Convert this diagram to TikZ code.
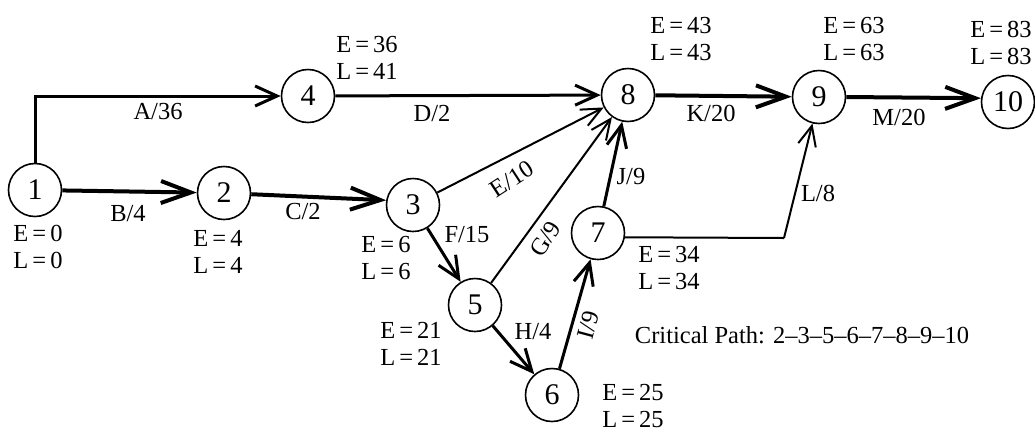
\documentclass[tikz,border=0pt]{standalone}
\usepackage{fontspec}
\setmainfont{Liberation Serif}
\usetikzlibrary{arrows.meta}
\tikzset{
  ev/.style={circle,draw,line width=1.6pt,minimum size=53pt,inner sep=0pt,
    font=\fontsize{30}{32}\selectfont},
  lab/.style={font=\fontsize{24.5}{26.5}\selectfont,inner sep=0pt,align=center},
  crit/.style={line width=4pt,-{Straight Barb[length=30pt,width=22pt]}},
  med/.style={line width=3pt,-{Straight Barb[length=22pt,width=20pt]}},
  thin/.style={line width=2pt,-{Straight Barb[length=20pt,width=18pt]}},
}
\begin{document}
\begin{tikzpicture}[x=1pt,y=-1pt]
\path[use as bounding box] (0,0) rectangle (1035,432);
% events
\node[ev] (n1) at (35,190) {1};
\node[ev] (n2) at (224,193) {2};
\node[ev] (n3) at (413,205) {3};
\node[ev] (n4) at (308,96) {4};
\node[ev] (n5) at (475,305) {5};
\node[ev] (n6) at (552,395) {6};
\node[ev] (n7) at (598,233) {7};
\node[ev] (n8) at (628,95) {8};
\node[ev] (n9) at (819,97) {9};
\node[ev] (n10) at (1008,102) {10};
\coordinate (lc) at (784,238);
% activities
\draw[med] (n1.north) |- (n4.west);
\draw[crit] (n1) -- (n2);
\draw[crit] (n2) -- (n3.170);
\draw[med] (n4) -- (n8);
\draw[thin] (n3) -- (n8);
\draw[med] (n3) -- (n5);
\draw[thin] (n5) -- (n8);
\draw[med] (n5) -- (n6);
\draw[med] (n6) -- (n7);
\draw[med] (n7) -- (n8);
\draw[crit] (n8) -- (n9);
\draw[crit] (n9.east) -- (n10.172);
\draw[thin,-] (n7.-9) -- (lc);
\draw[thin] (lc) -- (n9);
% activity labels
\node[lab] (la) at (158,112) {A/36};
\node[lab] (lb) at (128,214) {B/4};
\node[lab] (lcc) at (303,212) {C/2};
\node[lab] (ld) at (432,114) {D/2};
\node[lab,rotate=33] (le) at (512,179) {E/10};
\node[lab] (lf) at (467,235) {F/15};
\node[lab,rotate=58] (lg) at (545,239) {G/9};
\node[lab] (lh) at (533,332) {H/4};
\node[lab,rotate=75] (li) at (588,325) {I/9};
\node[lab] (lj) at (631,177) {J/9};
\node[lab] (lk) at (711,113) {K/20};
\node[lab] (ll) at (818,193) {L/8};
\node[lab] (lm) at (899,117) {M/20};
% event times
\node[lab] (t1) at (38,247) {E\,=\,0\\L\,=\,0};
\node[lab] (t2) at (218,252) {E\,=\,4\\L\,=\,4};
\node[lab] (t3) at (386,258) {E\,=\,6\\L\,=\,6};
\node[lab] (t4) at (367,58) {E\,=\,36\\L\,=\,41};
\node[lab] (t5) at (411,344) {E\,=\,21\\L\,=\,21};
\node[lab] (t6) at (633,406) {E\,=\,25\\L\,=\,25};
\node[lab] (t7) at (669,268) {E\,=\,34\\L\,=\,34};
\node[lab] (t8) at (681,39) {E\,=\,43\\L\,=\,43};
\node[lab] (t9) at (854,39) {E\,=\,63\\L\,=\,63};
\node[lab] (t10) at (1001,43) {E\,=\,83\\L\,=\,83};
\node[lab] (cp) at (802,335) {Critical Path: 2–3–5–6–7–8–9–10};
\end{tikzpicture}
\end{document}
